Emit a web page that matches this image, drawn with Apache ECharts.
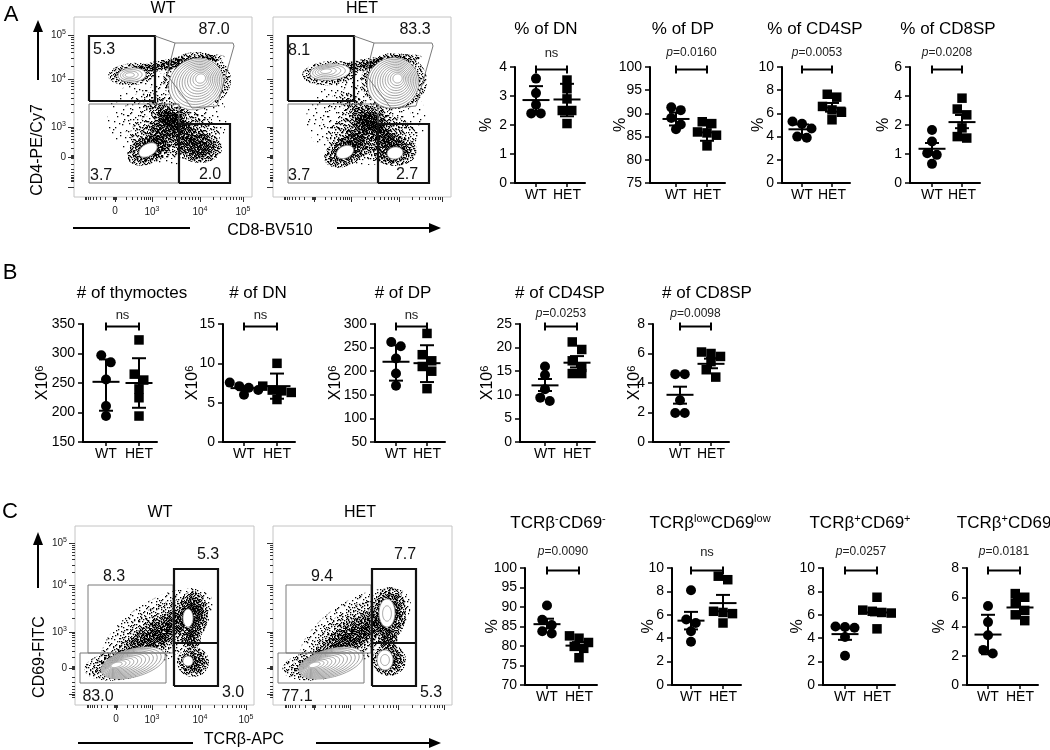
<!DOCTYPE html>
<html><head><meta charset="utf-8">
<script src="https://cdn.jsdelivr.net/npm/echarts@6/dist/echarts.min.js"></script>
<style>html,body{margin:0;padding:0;background:#fff}#c{width:1050px;height:750px}</style>
</head><body><div id="c"></div><script>
const FL = '"Liberation Sans", Arial, Helvetica, sans-serif';

// ================= DATA =================
const groupNames = ['WT', 'HET'];

// Panel A: % of thymocytes   (bars = [mean, lower, upper])
const dnPct_WT = [3.6, 3.1, 2.7, 2.4, 2.4];
const dnPct_HET = [3.55, 3.25, 2.9, 2.5, 2.5, 2.05];
const dnPct_bars = [[2.86, 2.38, 3.34], [2.88, 2.3, 3.42]];
const dpPct_WT = [91.3, 90.7, 89.0, 87.6, 86.6];
const dpPct_HET = [88.2, 87.8, 86.0, 85.8, 85.3, 83.0];
const dpPct_bars = [[88.8, 87.4, 90.2], [85.9, 84.1, 87.7]];
const cd4Pct_WT = [5.3, 5.1, 4.7, 4.0, 3.9];
const cd4Pct_HET = [7.65, 7.4, 6.6, 6.3, 6.1, 5.45];
const cd4Pct_bars = [[4.63, 4.15, 5.05], [6.5, 6.15, 6.9]];
const cd8Pct_WT = [1.83, 1.43, 1.03, 0.97, 0.66];
const cd8Pct_HET = [3.85, 3.1, 2.7, 1.9, 1.6, 1.55];
const cd8Pct_bars = [[1.18, 0.97, 1.38], [2.2, 1.89, 2.69]];
const cd8PctTickLabels = ['0', '1', '2', '4', '6'];   // segmented axis

// Panel B: cell numbers (x10^6)
const thyNum_WT = [297, 285, 256, 211, 194];
const thyNum_HET = [323, 265, 255, 240, 225, 194];
const thyNum_bars = [[252, 203, 290], [250, 208, 292]];
const dnNum_WT = [7.55, 7.1, 6.9, 6.6, 6.0];
const dnNum_HET = [10.0, 7.1, 6.6, 6.5, 6.3, 5.4];
const dnNum_bars = [[6.85, 6.6, 7.1], [7.1, 5.5, 8.7]];
const dpNum_WT = [262, 253, 227, 195, 169];
const dpNum_HET = [280, 235, 222, 210, 200, 163];
const dpNum_bars = [[220, 180, 255], [217, 177, 255]];
const cd4Num_WT = [16.0, 14.2, 11.2, 9.4, 8.7];
const cd4Num_HET = [21.2, 19.6, 17.2, 15.8, 14.5, 14.5];
const cd4Num_bars = [[12.0, 10.8, 13.35], [16.8, 15.8, 18.2]];
const cd8Num_WT = [4.6, 4.6, 2.83, 1.97, 1.97];
const cd8Num_HET = [6.1, 6.0, 5.8, 5.45, 4.9, 4.4];
const cd8Num_bars = [[3.2, 2.6, 3.75], [5.3, 5.0, 5.65]];

// Panel C: % in TCRβ / CD69 gates
const negNeg_WT = [90.4, 86.7, 85.4, 83.8, 83.2];
const negNeg_HET = [82.6, 82.0, 80.9, 79.9, 79.4, 77.0];
const negNeg_bars = [[85.6, 84.5, 87.0], [80.1, 79.3, 81.0]];
const lowLow_WT = [8.1, 5.6, 5.3, 4.6, 3.7];
const lowLow_HET = [9.3, 9.0, 6.3, 6.2, 6.1, 5.3];
const lowLow_bars = [[5.5, 4.75, 6.25], [7.0, 6.3, 7.7]];
const posPos_WT = [5.0, 4.95, 4.9, 4.1, 2.5];
const posPos_HET = [7.5, 6.4, 6.3, 6.2, 6.15, 4.8];
const posPos_bars = [[4.35, 3.86, 4.85], [6.2, 5.95, 6.5]];
const posNeg_WT = [5.4, 4.3, 3.4, 2.4, 2.15];
const posNeg_HET = [6.25, 6.0, 5.6, 5.1, 4.8, 4.4];
const posNeg_bars = [[3.45, 2.1, 4.8], [5.3, 4.6, 5.9]];

// Significance labels
const sigA = ['ns', 'p=0.0160', 'p=0.0053', 'p=0.0208'];
const sigB = ['ns', 'ns', 'ns', 'p=0.0253', 'p=0.0098'];
const sigC = ['p=0.0090', 'ns', 'p=0.0257', 'p=0.0181'];

// Flow cytometry panels (axis units of the display scale)
const flowA_xTicks = [41, 78, 126, 169];
const flowA_xTickLabels = ['0', '10^3', '10^4', '10^5'];
const flowA_yTicks = [10, 40, 70, 118, 162];
const flowA_yTickLabels = ['', '0', '10^3', '10^4', '10^5'];
const flowC_xTicks = [41, 77, 125, 171];
const flowC_xTickLabels = ['0', '10^3', '10^4', '10^5'];
const flowC_yTicks = [11, 37, 73, 120, 162];
const flowC_yTickLabels = ['', '0', '10^3', '10^4', '10^5'];

// gates: [type, thick, coords...]
const flowA_gates = [
  ['rect', 1, 15, 96, 81, 161],
  ['rect', 0, 15, 14, 105, 93],
  ['rect', 1, 105, 14, 156, 73],
  ['line', 0, [[81, 161], [101, 154], [159, 154], [160, 151], [143, 91], [118, 89], [93, 122], [101, 154]]]
];
const flowC_gates = [
  ['rect', 0, 13, 52, 98, 120],
  ['rect', 0, 5, 22, 91, 52],
  ['rect', 1, 99, 19, 143, 136],
  ['line', 1, [[99, 62], [143, 62]]]
];
// gate frequencies: [x, y, text, align]
const flowA_WT_freq = [[19, 147, '5.3', 'left'], [140, 167, '87.0', 'center'], [16, 21, '3.7', 'left'], [136, 22, '2.0', 'center']];
const flowA_HET_freq = [[15, 146, '8.1', 'left'], [142, 167, '83.3', 'center'], [15, 21, '3.7', 'left'], [134, 22, '2.7', 'center']];
const flowC_WT_freq = [[39, 128, '8.3', 'center'], [133, 150, '5.3', 'center'], [23, 8, '83.0', 'center'], [158, 12, '3.0', 'center']];
const flowC_HET_freq = [[49, 128, '9.4', 'center'], [132, 150, '7.7', 'center'], [24, 8, '77.1', 'center'], [158, 12, '5.3', 'center']];

// event clouds: [cx, cy, rx, ry, angleDeg, density]
const flowA_WT_clouds = [
  [93, 78, 60, 46, 0, 0.12], [59, 123, 25, 11, 5, 0.75], [106, 134, 45, 6, 8, 0.7],
  [123, 117, 34, 28, 0, 0.7], [92, 70, 34, 13, 50, 0.6], [98, 76, 40, 12, -44, 0.6],
  [101, 62, 45, 24, 0, 0.5], [74, 47, 22, 14, 25, 0.85], [126, 49, 22, 15, 0, 0.85]
];
const flowA_HET_clouds = [
  [93, 78, 60, 46, 0, 0.12], [57, 124, 28, 12, 5, 0.75], [104, 134, 45, 6, 8, 0.7],
  [121, 116, 33, 28, 0, 0.7], [92, 70, 34, 13, 50, 0.6], [96, 76, 40, 12, -44, 0.6],
  [99, 60, 45, 24, 0, 0.5], [72, 45, 22, 14, 25, 0.85], [122, 46, 22, 15, 0, 0.85]
];
const flowC_WT_clouds = [
  [82, 74, 64, 30, 33, 0.35], [82, 70, 54, 14, 32, 0.6], [45, 40, 36, 15, 8, 0.6],
  [118, 90, 15, 24, 0, 0.85], [118, 43, 16, 15, 0, 0.85], [116, 66, 10, 10, 0, 0.8]
];
const flowC_HET_clouds = [
  [82, 74, 64, 30, 33, 0.35], [82, 70, 54, 14, 32, 0.6], [45, 40, 36, 15, 8, 0.6],
  [117, 92, 16, 26, 0, 0.85], [116, 45, 17, 16, 0, 0.85], [115, 66, 10, 10, 0, 0.8]
];
// contour clusters: [cx, cy, rx, ry, angleDeg, rings, innerCx, innerCy]
const flowA_WT_contours = [[58, 122, 14, 7, 3, 4, 55, 122], [122, 113, 28, 25, 30, 11, 127, 119], [74, 47, 10, 6, 30, 1, 74, 47]];
const flowA_HET_contours = [[57, 125, 20, 8, 5, 5, 52, 126], [120, 114, 26, 25, 30, 11, 125, 119], [72, 45, 9, 6, 25, 1, 72, 45], [122, 44, 8, 6, 10, 1, 122, 44]];
const flowC_WT_contours = [[58, 42, 33, 14, 15, 12, 40, 40], [113, 87, 5, 9, 0, 1, 113, 87], [113, 44, 5, 5, 0, 1, 113, 44]];
const flowC_HET_contours = [[58, 42, 33, 14, 15, 12, 40, 40], [114, 92, 8, 14, 0, 2, 114, 91], [112, 45, 8, 10, 0, 2, 112, 45]];

// ================= LAYOUT =================
const dotPlots = [
  {t: '% of DN', yn: '%', w: dnPct_WT, h: dnPct_HET, b: dnPct_bars, s: sigA[0], y: [0, 4, 1], L: {ax: 515, wt: 536, het: 567, top: 67, bot: 183, tx: 546, ty: 29, gap: 20, sy: 53}},
  {t: '% of DP', yn: '%', w: dpPct_WT, h: dpPct_HET, b: dpPct_bars, s: sigA[1], y: [75, 100, 5], L: {ax: 650, wt: 676, het: 707, top: 67, bot: 183, tx: 683, ty: 29, gap: 21, sy: 53}},
  {t: '% of CD4SP', yn: '%', w: cd4Pct_WT, h: cd4Pct_HET, b: cd4Pct_bars, s: sigA[2], y: [0, 10, 2], L: {ax: 782, wt: 802, het: 832, top: 67, bot: 183, tx: 815, ty: 29, gap: 15, sy: 53}},
  {t: '% of CD8SP', yn: '%', w: cd8Pct_WT, h: cd8Pct_HET, b: cd8Pct_bars, s: sigA[3], y: [0, 4, 1], seg: true, L: {ax: 910, wt: 932, het: 962, top: 67, bot: 183, tx: 948, ty: 29, gap: 18, sy: 53}},
  {t: '# of thymoctes', yn: 'X10^6', w: thyNum_WT, h: thyNum_HET, b: thyNum_bars, s: sigB[0], y: [150, 350, 50], L: {ax: 83, wt: 106, het: 139, top: 324, bot: 442, tx: 132, ty: 293, gap: 32, sy: 315}},
  {t: '# of DN', yn: 'X10^6', w: dnNum_WT, h: dnNum_HET, b: dnNum_bars, s: sigB[1], y: [0, 15, 5], L: {ax: 223, wt: 244, het: 277, top: 324, bot: 442, tx: 258, ty: 293, gap: 22, sy: 315}},
  {t: '# of DP', yn: 'X10^6', w: dpNum_WT, h: dpNum_HET, b: dpNum_bars, s: sigB[2], y: [50, 300, 50], L: {ax: 375, wt: 396, het: 427, top: 324, bot: 442, tx: 403, ty: 293, gap: 31, sy: 315}},
  {t: '# of CD4SP', yn: 'X10^6', w: cd4Num_WT, h: cd4Num_HET, b: cd4Num_bars, s: sigB[3], y: [0, 25, 5], L: {ax: 520, wt: 545, het: 577, top: 324, bot: 442, tx: 560, ty: 293, gap: 24, sy: 314}},
  {t: '# of CD8SP', yn: 'X10^6', w: cd8Num_WT, h: cd8Num_HET, b: cd8Num_bars, s: sigB[4], y: [0, 8, 2], L: {ax: 653, wt: 680, het: 711, top: 324, bot: 442, tx: 707, ty: 293, gap: 10, sy: 314}},
  {t: 'TCRβ{s|-}CD69{s|-}', yn: '%', w: negNeg_WT, h: negNeg_HET, b: negNeg_bars, s: sigC[0], y: [70, 100, 5], L: {ax: 525, wt: 547, het: 579, top: 568, bot: 685, tx: 558, ty: 523, gap: 24, sy: 552}},
  {t: 'TCRβ{s|low}CD69{s|low}', yn: '%', w: lowLow_WT, h: lowLow_HET, b: lowLow_bars, s: sigC[1], y: [0, 10, 2], L: {ax: 672, wt: 691, het: 723, top: 568, bot: 685, tx: 710, ty: 523, gap: 15, sy: 552}},
  {t: 'TCRβ{s|+}CD69{s|+}', yn: '%', w: posPos_WT, h: posPos_HET, b: posPos_bars, s: sigC[2], y: [0, 10, 2], L: {ax: 823, wt: 845, het: 877, top: 568, bot: 685, tx: 860, ty: 523, gap: 17, sy: 552}},
  {t: 'TCRβ{s|+}CD69{s|-}', yn: '%', w: posNeg_WT, h: posNeg_HET, b: posNeg_bars, s: sigC[3], y: [0, 8, 2], L: {ax: 967, wt: 988, het: 1020, top: 568, bot: 685, tx: 1006, ty: 523, gap: 19, sy: 552}}
];

const flowPlots = [
  {g: {left: 74, top: 17, width: 178, height: 180}, xt: flowA_xTicks, xl: flowA_xTickLabels, yt: flowA_yTicks, yl: flowA_yTickLabels, labels: true, cl: flowA_WT_clouds, co: flowA_WT_contours, ga: flowA_gates, fr: flowA_WT_freq},
  {g: {left: 273, top: 17, width: 178, height: 180}, xt: flowA_xTicks, xl: flowA_xTickLabels, yt: flowA_yTicks, yl: flowA_yTickLabels, labels: false, cl: flowA_HET_clouds, co: flowA_HET_contours, ga: flowA_gates, fr: flowA_HET_freq},
  {g: {left: 75, top: 526, width: 179, height: 179}, xt: flowC_xTicks, xl: flowC_xTickLabels, yt: flowC_yTicks, yl: flowC_yTickLabels, labels: true, cl: flowC_WT_clouds, co: flowC_WT_contours, ga: flowC_gates, fr: flowC_WT_freq},
  {g: {left: 273, top: 526, width: 179, height: 179}, xt: flowC_xTicks, xl: flowC_xTickLabels, yt: flowC_yTicks, yl: flowC_yTickLabels, labels: false, cl: flowC_HET_clouds, co: flowC_HET_contours, ga: flowC_gates, fr: flowC_HET_freq}
];

// ================= BUILD =================
const grids = [], xAxes = [], yAxes = [], series = [], graphics = [];
const supRich = {
  b: {fontSize: 10, fontFamily: FL, color: '#222'},
  s: {fontSize: 7, fontFamily: FL, color: '#222', verticalAlign: 'top', padding: [0, 0, 5, 0]}
};
function supFmt(str) {
  const m = str.match(/^(.*)\^(.*)$/);
  return m ? '{b|' + m[1] + '}{s|' + m[2] + '}' : (str === '' ? '' : '{b|' + str + '}');
}
function segT(v) { return v <= 2 ? v : 2 + (v - 2) / 2; }

// deterministic stipple textures (Halton low-discrepancy dots) for event clouds
function halton(i, b) { let f = 1, r = 0; while (i > 0) { f /= b; r += f * (i % b); i = Math.floor(i / b); } return r; }
const patCache = {};
function stipple(d, layer) {
  const key = d.toFixed(2) + '_' + layer;
  if (patCache[key]) return patCache[key];
  const S = 37, c = document.createElement('canvas'); c.width = c.height = S;
  const ctx = c.getContext('2d'); ctx.fillStyle = '#000';
  const n = Math.round(S * S * d / 1.6);
  const off = 1 + layer * 211;
  for (let i = 0; i < n; i++) {
    ctx.fillRect(Math.floor(halton(i + off, 2) * S), Math.floor(halton(i + off, 3) * S), 1.3, 1.3);
  }
  patCache[key] = {image: c, repeat: 'repeat'};
  return patCache[key];
}

function swarm(vals, pxPerUnit, diam) {
  const idx = vals.map((v, i) => i).sort((a, b) => vals[b] - vals[a]);
  const off = new Array(vals.length).fill(0);
  let row = [];
  const flush = () => { const n = row.length; row.forEach((k, j) => { off[k] = (j - (n - 1) / 2) * diam; }); };
  idx.forEach(k => {
    if (row.length && Math.abs(vals[row[0]] - vals[k]) * pxPerUnit > diam * 0.8) { flush(); row = []; }
    row.push(k);
  });
  flush();
  return off;
}

dotPlots.forEach(p => {
  const L = p.L, gi = grids.length;
  const end = L.het + 18, u = L.het - L.wt;
  const tf = p.seg ? segT : (v => v);
  grids.push({left: L.ax, top: L.top, width: end - L.ax, height: L.bot - L.top});
  xAxes.push({gridIndex: gi, type: 'value', min: -(L.wt - L.ax) / u, max: (end - L.wt) / u,
    axisLine: {show: true, onZero: false, lineStyle: {color: '#000', width: 2}},
    axisTick: {show: true, customValues: [0, 1], length: 4, lineStyle: {color: '#000', width: 1.5}},
    axisLabel: {show: true, customValues: [0, 1], formatter: v => (v < 0.5 ? groupNames[0] : groupNames[1]), color: '#000', fontSize: 14, fontFamily: FL, margin: 5},
    splitLine: {show: false}});
  const isX = p.yn !== '%';
  yAxes.push({gridIndex: gi, type: 'value', min: p.y[0], max: p.y[1], interval: p.y[2],
    axisLine: {show: true, onZero: false, lineStyle: {color: '#000', width: 2}},
    axisTick: {show: true, length: 5, lineStyle: {color: '#000', width: 1.5}},
    axisLabel: {color: '#000', fontSize: 14, fontFamily: FL, margin: 8, formatter: p.seg ? (v => cd8PctTickLabels[Math.round(v)]) : (v => String(v))},
    splitLine: {show: false},
    name: isX ? '{b|X10}{s|6}' : '%', nameLocation: 'middle', nameRotate: 90, nameGap: L.gap, nameMoveOverlap: false,
    nameTextStyle: {color: '#000', fontSize: 16, fontFamily: FL,
      rich: {b: {fontSize: 16, fontFamily: FL, color: '#000'}, s: {fontSize: 11, fontFamily: FL, color: '#000', verticalAlign: 'top', padding: [0, 0, 6, 0]}}}});
  const pxU = (L.bot - L.top) / (p.y[1] - p.y[0]);
  const D = 9.5;
  [p.w, p.h].forEach((vals, g) => {
    const tv = vals.map(tf);
    const off = swarm(tv, pxU, D);
    series.push({type: 'scatter', xAxisIndex: gi, yAxisIndex: gi, symbol: g === 0 ? 'circle' : 'rect',
      symbolSize: g === 0 ? 10 : 9.5, itemStyle: {color: '#000', opacity: 1}, silent: true, z: 3,
      data: tv.map((v, i) => [g + off[i] / u, v])});
  });
  const bars = p.b.map(b => b.map(tf));
  series.push({type: 'custom', xAxisIndex: gi, yAxisIndex: gi, silent: true, z: 4, clip: false,
    data: bars.map((b, g) => [g, b[0]]), encode: {x: 0, y: 1},
    renderItem: (params, api) => {
      const g = params.dataIndex, b = bars[g];
      const pm = api.coord([g, b[0]]), pl = api.coord([g, b[1]]), ph = api.coord([g, b[2]]);
      const st = {stroke: '#000', lineWidth: 2};
      return {type: 'group', children: [
        {type: 'line', shape: {x1: pm[0] - 13.5, y1: pm[1], x2: pm[0] + 13.5, y2: pm[1]}, style: st},
        {type: 'line', shape: {x1: pm[0], y1: pl[1], x2: pm[0], y2: ph[1]}, style: st},
        {type: 'line', shape: {x1: pm[0] - 7, y1: pl[1], x2: pm[0] + 7, y2: pl[1]}, style: st},
        {type: 'line', shape: {x1: pm[0] - 7, y1: ph[1], x2: pm[0] + 7, y2: ph[1]}, style: st}
      ]};
    }});
  series.push({type: 'custom', xAxisIndex: gi, yAxisIndex: gi, silent: true, z: 4, clip: false,
    data: [[0, p.y[1]]], encode: {x: 0, y: 1},
    renderItem: (params, api) => {
      const a = api.coord([0, p.y[1]]), b = api.coord([1, p.y[1]]);
      const y = a[1] + 2.5;
      const st = {stroke: '#000', lineWidth: 2};
      const isP = p.s.charAt(0) === 'p';
      return {type: 'group', children: [
        {type: 'line', shape: {x1: a[0], y1: y, x2: b[0], y2: y}, style: st},
        {type: 'line', shape: {x1: a[0], y1: y - 4, x2: a[0], y2: y + 4}, style: st},
        {type: 'line', shape: {x1: b[0], y1: y - 4, x2: b[0], y2: y + 4}, style: st},
        {type: 'text', x: (a[0] + b[0]) / 2, y: L.sy, style: {
          text: isP ? '{i|p}{n|' + p.s.slice(1) + '}' : p.s,
          font: '13px ' + FL, fill: '#222', textAlign: 'center', textVerticalAlign: 'middle', align: 'center', verticalAlign: 'middle',
          rich: {i: {fontSize: 12, fontStyle: 'italic', fontFamily: FL, fill: '#222', color: '#222'}, n: {fontSize: 12, fontFamily: FL, fill: '#222', color: '#222'}}}}
      ]};
    }});
  graphics.push({type: 'text', x: L.tx, y: L.ty, silent: true, style: {
    text: p.t, font: '17px ' + FL, fill: '#000', textAlign: 'center', textVerticalAlign: 'middle', align: 'center', verticalAlign: 'middle',
    rich: {s: {fontSize: 11, fontFamily: FL, fill: '#000', color: '#000', verticalAlign: 'top', padding: [0, 0, 8, 0]}}}});
});

function minorTicks(t) {
  const n = t.length, p0 = t[n - 4], p3 = t[n - 3], p4 = t[n - 2], p5 = t[n - 1];
  const out = [p0 - 1.5, p0 - 0.7, p0 + 0.7, p0 + 1.5];
  for (let k = 2; k <= 9; k++) {
    const l = Math.log10(k);
    out.push(p0 + (p3 - p0) * l, p0 - (p3 - p0) * l * 0.85, p3 + (p4 - p3) * l, p4 + (p5 - p4) * l);
  }
  return out.filter(v => v > 1);
}
function ellipsePts(api, cx, cy, rx, ry, ang, n) {
  const a = ang * Math.PI / 180, ca = Math.cos(a), sa = Math.sin(a), pts = [];
  for (let i = 0; i < n; i++) {
    const th = 2 * Math.PI * i / n, ex = rx * Math.cos(th), ey = ry * Math.sin(th);
    pts.push(api.coord([cx + ex * ca - ey * sa, cy + ex * sa + ey * ca]));
  }
  return pts;
}

flowPlots.forEach(f => {
  const gi = grids.length;
  const W = f.g.width, H = f.g.height;
  grids.push(Object.assign({show: true, borderColor: '#c4c4c4', borderWidth: 1, backgroundColor: '#fff'}, f.g));
  const tickStyle = {color: '#333', width: 1};
  xAxes.push({gridIndex: gi, type: 'value', min: 0, max: W, position: 'bottom',
    axisLine: {show: false, onZero: false}, splitLine: {show: false},
    axisTick: {show: true, customValues: f.xt, length: 5, lineStyle: tickStyle},
    axisLabel: {show: f.labels, customValues: f.xt, margin: 9, formatter: v => supFmt(f.xl[f.xt.indexOf(v)] || ''), rich: supRich}});
  yAxes.push({gridIndex: gi, type: 'value', min: 0, max: H, position: 'left',
    axisLine: {show: false, onZero: false}, splitLine: {show: false},
    axisTick: {show: true, customValues: f.yt, length: 6, lineStyle: tickStyle},
    axisLabel: {show: f.labels, customValues: f.yt, margin: 8, formatter: v => supFmt(f.yl[f.yt.indexOf(v)] || ''), rich: supRich}});
  const xm = xAxes.length, ym = yAxes.length;
  xAxes.push({gridIndex: gi, type: 'value', min: 0, max: W, position: 'bottom', axisLine: {show: false, onZero: false}, splitLine: {show: false},
    axisTick: {show: true, customValues: minorTicks(f.xt), length: 3, lineStyle: tickStyle}, axisLabel: {show: false}});
  yAxes.push({gridIndex: gi, type: 'value', min: 0, max: H, position: 'left', axisLine: {show: false, onZero: false}, splitLine: {show: false},
    axisTick: {show: true, customValues: minorTicks(f.yt), length: 3, lineStyle: tickStyle}, axisLabel: {show: false}});
  const xi = xm - 1, yi = ym - 1;
  // clouds of events (stippled)
  series.push({type: 'custom', xAxisIndex: xi, yAxisIndex: yi, silent: true, clip: true, z: 1,
    data: f.cl.map(c => [c[0], c[1]]), encode: {x: 0, y: 1},
    renderItem: (params, api) => {
      const c = f.cl[params.dataIndex];
      const o = 1 - Math.pow(1 - c[5], 1 / 3);
      const dq = Math.max(0.04, Math.round(o * 20) / 20);
      const ch = [1, 0.75, 0.5].map((s, li) => ({type: 'polygon', shape: {points: ellipsePts(api, c[0], c[1], c[2] * s, c[3] * s, c[4], 40)},
        style: {fill: stipple(dq, (params.dataIndex * 3 + li) % 7)}}));
      return {type: 'group', children: ch};
    }});
  // contours
  series.push({type: 'custom', xAxisIndex: xi, yAxisIndex: yi, silent: true, clip: true, z: 2,
    data: f.co.map(c => c.slice(0, 2)), encode: {x: 0, y: 1},
    renderItem: (params, api) => {
      const c = f.co[params.dataIndex];
      const n = c[5], ch = [];
      for (let i = 0; i < n; i++) {
        const fr = n === 1 ? 0 : i / n;
        const s = 1 - fr * 0.9;
        const cx = c[0] + (c[6] - c[0]) * fr, cy = c[1] + (c[7] - c[1]) * fr;
        ch.push({type: 'polygon', shape: {points: ellipsePts(api, cx, cy, c[2] * s, c[3] * s, c[4], 48)},
          style: {fill: '#fff', stroke: '#8c8c8c', lineWidth: 0.8}});
      }
      return {type: 'group', children: ch};
    }});
  // gates
  series.push({type: 'custom', xAxisIndex: xi, yAxisIndex: yi, silent: true, clip: false, z: 5,
    data: f.ga.map((g, i) => [i, 0]), encode: {x: 0, y: 1},
    renderItem: (params, api) => {
      const g = f.ga[params.dataIndex];
      const st = g[1] ? {stroke: '#111', lineWidth: 2.2, fill: null} : {stroke: '#7a7a7a', lineWidth: 1, fill: null};
      let pts;
      if (g[0] === 'rect') pts = [[g[2], g[3]], [g[4], g[3]], [g[4], g[5]], [g[2], g[5]], [g[2], g[3]]];
      else pts = g[2];
      return {type: 'polyline', shape: {points: pts.map(q => api.coord(q))}, style: st};
    }});
  // frequencies
  series.push({type: 'custom', xAxisIndex: xi, yAxisIndex: yi, silent: true, clip: false, z: 6,
    data: f.fr.map(q => [q[0], q[1]]), encode: {x: 0, y: 1},
    renderItem: (params, api) => {
      const q = f.fr[params.dataIndex];
      const pt = api.coord([q[0], q[1]]);
      return {type: 'text', x: pt[0], y: pt[1], style: {text: q[2], font: '16px ' + FL, fill: '#111',
        textAlign: q[3], align: q[3], textVerticalAlign: 'middle', verticalAlign: 'middle'}};
    }});
});

// ---- free text, arrows, panel letters ----
function txt(x, y, s, size) {
  graphics.push({type: 'text', x: x, y: y, silent: true, style: {text: s, font: size + 'px ' + FL, fill: '#000',
    textAlign: 'center', align: 'center', textVerticalAlign: 'middle', verticalAlign: 'middle'}});
}
function rtxt(x, y, s, size) {
  graphics.push({type: 'text', x: x, y: y, rotation: Math.PI / 2, silent: true, style: {text: s, font: size + 'px ' + FL, fill: '#000',
    textAlign: 'center', align: 'center', textVerticalAlign: 'middle', verticalAlign: 'middle'}});
}
function seg(x1, y1, x2, y2) {
  graphics.push({type: 'line', silent: true, shape: {x1: x1, y1: y1, x2: x2, y2: y2}, style: {stroke: '#000', lineWidth: 2}});
}
function head(pts) {
  graphics.push({type: 'polygon', silent: true, shape: {points: pts}, style: {fill: '#000'}});
}
txt(11, 15, 'A', 22); txt(10, 273, 'B', 22); txt(10, 512, 'C', 22);
txt(163, 9, 'WT', 16); txt(362, 9, 'HET', 16);
txt(160, 513, 'WT', 16); txt(360, 513, 'HET', 16);
rtxt(38, 150, 'CD4-PE/Cy7', 16);
txt(270, 231, 'CD8-BV510', 16);
seg(38, 80, 38, 30); head([[33, 32], [43, 32], [38, 20]]);
seg(73, 228, 190, 228); seg(337, 228, 431, 228); head([[429, 223], [429, 233], [441, 228]]);
rtxt(40, 657, 'CD69-FITC', 16);
txt(244, 740, 'TCRβ-APC', 16);
seg(38, 588, 38, 544); head([[33, 545], [43, 545], [38, 532]]);
seg(78, 743, 193, 743); seg(316, 743, 431, 743); head([[429, 738], [429, 748], [441, 743]]);

const chart = echarts.init(document.getElementById('c'), null, {renderer: 'canvas'});
chart.setOption({
  animation: false,
  backgroundColor: '#fff',
  textStyle: {fontFamily: FL},
  grid: grids, xAxis: xAxes, yAxis: yAxes, series: series,
  graphic: {elements: graphics}
});
</script></body></html>
